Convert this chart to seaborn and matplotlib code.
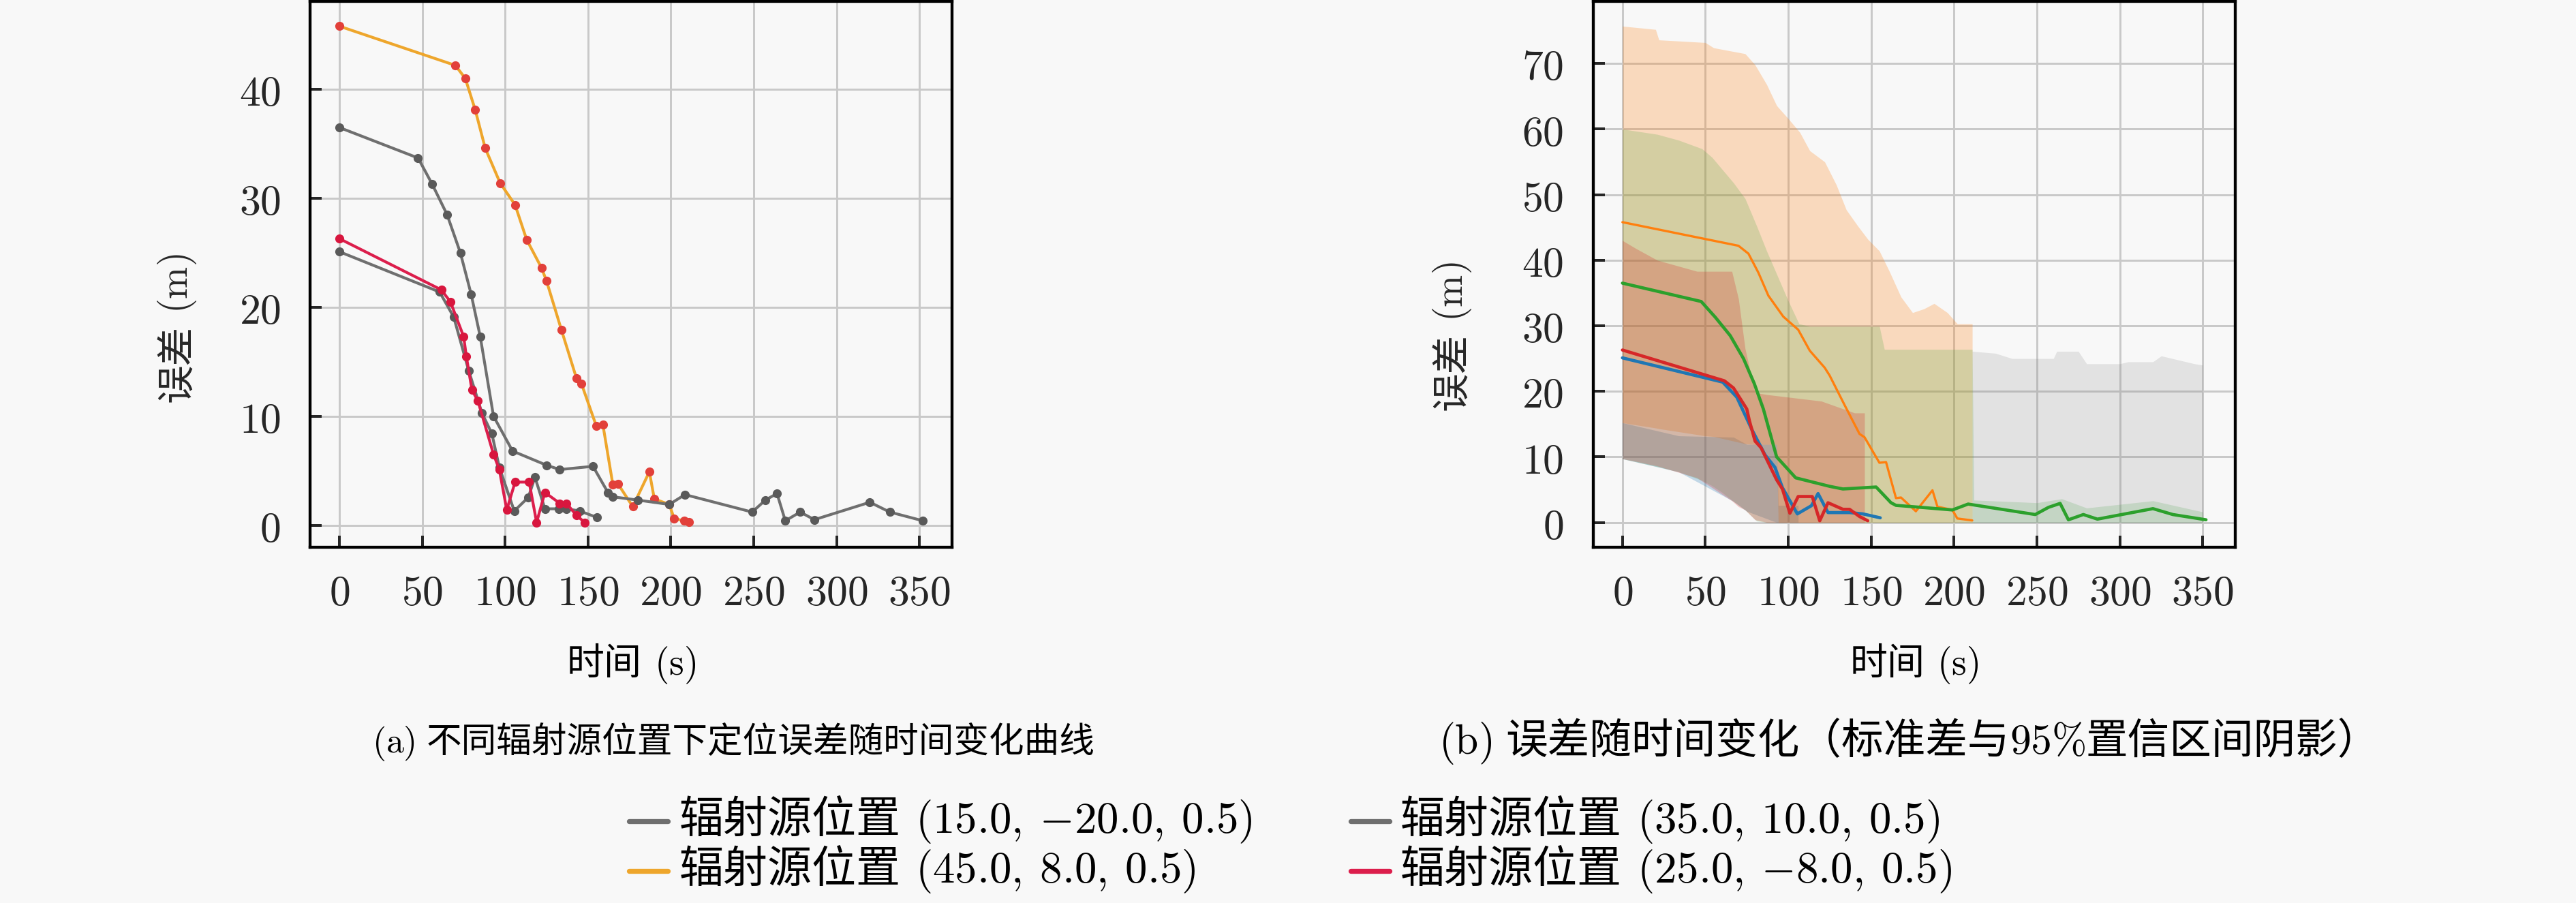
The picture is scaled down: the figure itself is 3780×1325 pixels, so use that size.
import matplotlib
matplotlib.use("Agg")
import matplotlib.pyplot as plt
import seaborn as sns
from matplotlib.lines import Line2D
from matplotlib.ticker import MultipleLocator, FuncFormatter
from matplotlib.offsetbox import TextArea, HPacker, AnchoredOffsetbox, DrawingArea

# --- series (time in s, error in m) ---
label_cjk = "辐射源位置"
label_pos = ["(15.0,\\:{-}20.0,\\:0.5)", "(45.0,\\:8.0,\\:0.5)",
             "(35.0,\\:10.0,\\:0.5)", "(25.0,\\:{-}8.0,\\:0.5)"]

t0 = [0, 60.5, 69, 78, 86, 92, 96.5, 105.5, 114, 118, 124, 132.5, 137, 145, 155.5]
e0 = [25.1, 21.4, 19.1, 14.2, 10.3, 8.4, 5.3, 1.3, 2.55, 4.4, 1.5, 1.5, 1.5, 1.3, 0.7]

t1 = [0, 70, 76, 82, 88, 97, 106, 113, 122, 125, 134, 143, 146, 155, 159, 165, 168,
      177, 187, 190, 199, 202, 208, 211]
e1 = [45.8, 42.2, 41.0, 38.1, 34.6, 31.4, 29.4, 26.2, 23.6, 22.4, 17.9, 13.5, 13.0, 9.1,
      9.2, 3.7, 3.8, 1.7, 4.9, 2.4, 1.9, 0.6, 0.4, 0.3]

t2 = [0, 47.5, 56, 65, 73, 79.5, 85, 93, 104.5, 125, 133, 153, 162, 165, 180, 199, 208.5,
      249, 257, 264, 269, 278, 286.5, 320, 332, 352]
e2 = [36.5, 33.7, 31.3, 28.5, 25.0, 21.2, 17.3, 10.0, 6.8, 5.5, 5.1, 5.4, 3.0, 2.6, 2.3,
      1.9, 2.8, 1.2, 2.3, 2.9, 0.4, 1.2, 0.5, 2.1, 1.2, 0.4]

t3 = [0, 61.5, 67, 75, 76.6, 80, 83.6, 93, 96.5, 101, 106, 114.5, 119, 124, 133, 137, 143, 148]
e3 = [26.3, 21.6, 20.5, 17.3, 15.5, 12.4, 11.4, 6.5, 5.1, 1.4, 3.95, 3.95, 0.25, 3.0, 2.0,
      2.0, 0.9, 0.25]

times = [t0, t1, t2, t3]
errors = [e0, e1, e2, e3]

# --- shaded bands for panel (b) ---
band0_t = [0, 34, 67, 75, 93, 94, 106]
band0_hi = [15.2, 13.2, 13.0, 11.9, 11.9, 2.6, 2.6]
band0_lo = [9.7, 7.7, 3.2, 1.7, 0, 0, 0]

band1_t = [0, 20, 22, 50, 55, 74, 80, 87, 93, 94, 100, 107, 113, 122, 129, 135, 142,
           148, 155, 161, 168, 175, 182, 188, 196, 202, 211]
band1_hi = [75.7, 75.2, 73.6, 73.2, 72.4, 71.5, 69.8, 66.8, 63.6, 63.3, 61.6, 59.5, 56.7,
            55.0, 51.5, 47.7, 45.2, 43.2, 41.4, 38.3, 34.4, 32.0, 32.6, 33.4, 32.0, 30.3, 30.3]
band1_lo = [15.2, 14.4, 14.3, 13.2, 13.1, 12.0, 11.9, 11.9, 11.9, 0, 0, 0, 0, 0, 0, 0, 0,
            0, 0, 0, 0, 0, 0, 0, 0, 0, 0]

band2_t = [0, 21, 34, 48, 54, 60, 67, 74, 81, 87, 93.5, 100, 106.5, 113, 155, 158, 211,
           212, 250, 265, 280, 320, 350]
band2_hi = [60.0, 59.2, 58.3, 57.0, 55.7, 53.9, 51.8, 49.4, 45.2, 41.4, 37.6, 33.8, 30.3,
            29.9, 29.9, 26.4, 26.4, 3.4, 3.0, 3.6, 2.2, 3.3, 1.6]
band2_lo = [9.7, 8.5, 7.7, 6.4, 5.6, 4.6, 3.2, 1.9, 0.2, 0, 0, 0, 0, 0, 0, 0, 0,
            0, 0, 0, 0, 0, 0]

ci2_t = [211, 225, 235, 260, 262, 275, 280, 300, 305, 320, 325, 345, 350]
ci2_hi = [26.1, 25.8, 25.0, 25.0, 26.1, 26.1, 24.2, 24.2, 24.5, 24.5, 25.4, 24.2, 24.0]
ci2_lo = [0, 0, 0, 0, 0, 0, 0, 0, 0, 0, 0, 0, 0]

band3_t = [0, 8, 21, 45, 66, 70, 74, 80, 87, 120, 140, 146]
band3_hi = [43.0, 41.8, 40.0, 38.3, 38.3, 34.1, 26.5, 19.8, 19.5, 18.5, 16.7, 16.7]
band3_lo = [9.7, 9.3, 8.6, 6.8, 3.3, 2.4, 1.9, 0.4, 0, 0, 0, 0]

bands = [(band0_t, band0_lo, band0_hi), (band1_t, band1_lo, band1_hi),
         (band2_t, band2_lo, band2_hi), (band3_t, band3_lo, band3_hi)]

left_colors = ["#6f6f6f", "#eea62c", "#6f6f6f", "#dc1e4c"]
marker_colors = ["#5a5a5a", "#e2403a", "#5a5a5a", "#d8163e"]
right_colors = ["#1f77b4", "#ff7f0e", "#2ca02c", "#d62728"]
band_alpha = [0.25, 0.25, 0.18, 0.25]

sns.set_style("ticks")
bg = "#f8f8f8"
CJK = ["Noto Sans CJK SC", "DejaVu Sans"]
plt.rcParams["font.family"] = CJK
plt.rcParams["mathtext.fontset"] = "cm"


def mixed(parts, size):
    # parts: (text, kind) with kind "c" = CJK text, "m" = mathtext (Computer Modern),
    # "s" = blank gap given in em
    boxes = []
    for txt, kind in parts:
        if kind == "s":
            boxes.append(DrawingArea(txt * size, 1, 0, 0))
        elif kind == "m":
            boxes.append(TextArea(txt, textprops=dict(size=size, color="black")))
        else:
            boxes.append(TextArea(txt, textprops=dict(family=CJK, size=size, color="black")))
    return HPacker(children=boxes, align="baseline", pad=0, sep=0)


def place(fig, box, xy, loc="center", transform=None):
    ab = AnchoredOffsetbox(loc=loc, child=box, pad=0, borderpad=0, frameon=False,
                           bbox_to_anchor=xy,
                           bbox_transform=transform if transform else fig.transFigure)
    fig.add_artist(ab)


fig = plt.figure(figsize=(15.75, 1325 / 240), dpi=240, facecolor=bg)
ax1 = fig.add_axes([0.1204, 0.394, 0.2492, 0.6045])
ax2 = fig.add_axes([0.6185, 0.394, 0.2492, 0.6045])

# (a) raw curves with markers
for t, e, c, mc in zip(times, errors, left_colors, marker_colors):
    sns.lineplot(x=t, y=e, ax=ax1, color=c, lw=1.25, marker="o", markersize=3.2,
                 markerfacecolor=mc, markeredgecolor=mc, legend=False)

# (b) bands + mean lines
for (bt, lo, hi), c, a in zip(bands, right_colors, band_alpha):
    ax2.fill_between(bt, lo, hi, color=c, alpha=a, lw=0)
ax2.fill_between(ci2_t, ci2_lo, ci2_hi, color="gray", alpha=0.18, lw=0)
for t, e, c in zip(times, errors, right_colors):
    lw = 1.0 if c == "#ff7f0e" else 1.4
    sns.lineplot(x=t, y=e, ax=ax2, color=c, lw=lw, legend=False)

LABEL_SIZE = 16.5
fmt = FuncFormatter(lambda v, p: f"${v:g}$")
for ax in (ax1, ax2):
    ax.set_facecolor(bg)
    ax.grid(True, color="#c9c9c9", lw=0.9)
    ax.set_axisbelow(True)
    for s in ax.spines.values():
        s.set_color("black")
        s.set_linewidth(1.3)
    ax.xaxis.set_major_locator(MultipleLocator(50))
    ax.yaxis.set_major_locator(MultipleLocator(10))
    ax.xaxis.set_major_formatter(fmt)
    ax.yaxis.set_major_formatter(fmt)
    ax.tick_params(axis="both", direction="in", length=5, width=1.2, labelsize=18.5,
                   top=False, right=False)
    ax.tick_params(axis="x", pad=11)
    ax.tick_params(axis="y", pad=13)
    # x label: 时间 (s)
    place(fig, mixed([("时间", "c"), (0.33, "s"), (r"$(\mathrm{s})$", "m")], LABEL_SIZE),
          (0.5, -0.216), transform=ax.transAxes)

# y labels (rotated): CJK part below, unit above
for ax, x, y_cjk, y_unit in ((ax1, -0.207, 0.266, 0.428), (ax2, -0.22, 0.251, 0.413)):
    ax.text(x, y_cjk, "误差", rotation=90, ha="center", va="bottom", fontsize=LABEL_SIZE + 0.5,
            transform=ax.transAxes)
    ax.text(x, y_unit, r"$(\mathrm{m})$", rotation=90, ha="center", va="bottom",
            fontsize=LABEL_SIZE + 0.5, transform=ax.transAxes)

# captions
place(fig, mixed([(r"$(\mathrm{a})$", "m"), (0.33, "s"),
                  ("不同辐射源位置下定位误差随时间变化曲线", "c")], 15.5),
      (0.2847, 0.177))
place(fig, mixed([(r"$(\mathrm{b})$", "m"), (0.33, "s"), ("误差随时间变化（标准差与", "c"),
                  (r"$95\%$", "m"), ("置信区间阴影）", "c")], 18.5),
      (0.741, 0.177))

# legend, two columns (column-major order like matplotlib's ncol=2)
LEG_SIZE = 19.5
slots = [(0.2442, 0.0906), (0.2442, 0.0355), (0.5243, 0.0906), (0.5243, 0.0355)]
for c, pos, xy in zip(left_colors, label_pos, slots):
    da = DrawingArea(17, 10, 0, 0)
    da.add_artist(Line2D([0, 17], [5, 5], color=c, lw=2.2))
    txt = mixed([(label_cjk, "c"), (0.33, "s"), ("$" + pos + "$", "m")], LEG_SIZE)
    entry = HPacker(children=[da, txt], align="center", pad=0, sep=5)
    place(fig, entry, xy, loc="center left")

fig.savefig("out.png", dpi=240, facecolor=bg)
